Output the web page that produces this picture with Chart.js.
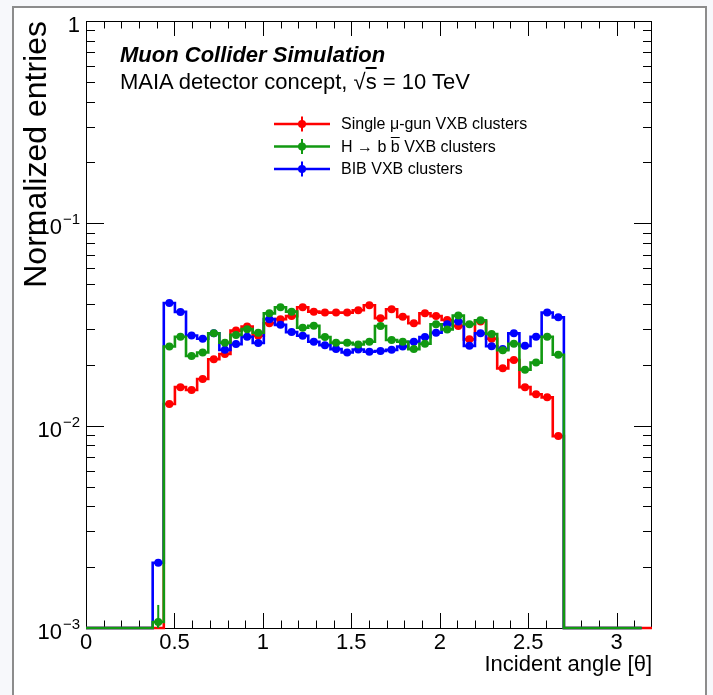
<!DOCTYPE html>
<html>
<head>
<meta charset="utf-8">
<script src="https://cdn.jsdelivr.net/npm/chart.js@4.4.1/dist/chart.umd.min.js"></script>
<style>
  html, body { margin: 0; padding: 0; background: #f7f8fb; }
  #wrap { position: relative; width: 713px; height: 695px; overflow: hidden; }
  #sheet { position: absolute; left: 12px; top: 6px; width: 695px; height: 700px;
           background: #fff; border: 2px solid #8c8c8c; box-sizing: border-box; }
  #c { position: absolute; left: 0; top: 0; }
  .txt { position: absolute; font-family: "Liberation Sans", Arial, sans-serif; color: #000;
         white-space: nowrap; }
  .ov { text-decoration: overline; }
</style>
</head>
<body>
<div id="wrap">
  <div id="sheet"></div>
  <canvas id="c" width="713" height="695"></canvas>
  <div class="txt" style="left:120px;top:44px;font-size:22px;line-height:22px;font-weight:bold;font-style:italic;">Muon Collider Simulation</div>
  <div class="txt" style="left:120px;top:71px;font-size:22px;line-height:22px;">MAIA detector concept, √<span class="ov">s</span> = 10 TeV</div>
  <div id="legend"></div>
</div>
<script>
// ---- binning: 50 bins over [0, pi] ----
const N_BINS = 50;
const BIN_LO = 0;
const BIN_HI = Math.PI;
const X_MAX = 3.2;
const Y_MIN = 1e-3;
const Y_MAX = 1;

// ---- normalized entries per bin (bins 0..49) ----
const muonGun = [
  0, 0, 0, 0, 0, 0, 0, 0.0128, 0.0155, 0.0150,
  0.0170, 0.0213, 0.0226, 0.0295, 0.0309, 0.0278, 0.0321, 0.0336, 0.0348, 0.0385,
  0.0366, 0.0362, 0.0362, 0.0362, 0.0372, 0.0394, 0.0340, 0.0376, 0.0345, 0.0321,
  0.0359, 0.0348, 0.0333, 0.0311, 0.0267, 0.0327, 0.0269, 0.0192, 0.0211, 0.0155,
  0.0143, 0.0138, 0.00888, 0, 0, 0, 0, 0, 0, 0
];
const hbb = [
  0, 0, 0, 0, 0, 0, 0.00107, 0.0246, 0.0275, 0.0221,
  0.0230, 0.0286, 0.0257, 0.0281, 0.0300, 0.0288, 0.0359, 0.0385, 0.0366, 0.0305,
  0.0312, 0.0274, 0.0257, 0.0257, 0.0252, 0.0260, 0.0311, 0.0265, 0.0260, 0.0239,
  0.0254, 0.0317, 0.0299, 0.0350, 0.0317, 0.0332, 0.0284, 0.0236, 0.0254, 0.0189,
  0.0205, 0.0275, 0.0224, 0, 0, 0, 0, 0, 0, 0
];
const bib = [
  0, 0, 0, 0, 0, 0, 0.0021, 0.0404, 0.0365, 0.0279,
  0.0269, 0.0286, 0.0237, 0.0253, 0.0275, 0.0256, 0.0336, 0.0315, 0.0290, 0.0278,
  0.0260, 0.0250, 0.0239, 0.0230, 0.0238, 0.0232, 0.0234, 0.0237, 0.0246, 0.0260,
  0.0274, 0.0288, 0.0317, 0.0327, 0.0248, 0.0286, 0.0247, 0.0239, 0.0286, 0.0248,
  0.0275, 0.0362, 0.0343, 0, 0, 0, 0, 0, 0, 0
];
// [bin index, error] where the error bar reaches outside the marker
const hbbErrors = [[6, 0.00023]];

// ---- axis ticks ----
const xTickValues = [0, 0.5, 1, 1.5, 2, 2.5, 3];
const xTickLabels = ['0', '0.5', '1', '1.5', '2', '2.5', '3'];
const yTickValues = [1, 1e-1, 1e-2, 1e-3];
const yTickExponents = [null, '\u22121', '\u22122', '\u22123'];

const seriesNames = [
  'Single \u03bc-gun VXB clusters',
  'H \u2192 b <span class="ov">b</span> VXB clusters',
  'BIB VXB clusters'
];
const seriesColors = ['#ff0000', '#119911', '#0000ff'];

const FONT = '"Liberation Sans", Arial, sans-serif';
const binWidth = (BIN_HI - BIN_LO) / N_BINS;
const edges = Array.from({length: N_BINS + 1}, (_, i) => BIN_LO + i * binWidth);

// step outline: first point on the low edge, then each bin's upper edge
function stepPoints(vals, extendTo) {
  const lvl = v => (v > Y_MIN ? v : Y_MIN);
  const pts = [{x: edges[0], y: lvl(vals[0])}];
  vals.forEach((v, i) => pts.push({x: edges[i + 1], y: lvl(v)}));
  if (extendTo !== undefined) pts.push({x: extendTo, y: Y_MIN});
  return pts;
}
function markerPoints(vals) {
  const pts = [];
  vals.forEach((v, i) => { if (v > 0) pts.push({x: edges[i] + binWidth / 2, y: v}); });
  return pts;
}
function histDataset(label, vals, color, order, extendTo) {
  return {label, data: stepPoints(vals, extendTo), borderColor: color, borderWidth: 2.6,
          stepped: 'after', pointRadius: 0, fill: false, order, clip: 5};
}
function markerDataset(label, vals, color, order) {
  return {label, data: markerPoints(vals), showLine: false, pointRadius: 4,
          pointBackgroundColor: color, pointBorderWidth: 0, borderColor: color, order, clip: 5};
}

const datasets = [
  markerDataset('hbb', hbb, seriesColors[1], 0),
  histDataset('hbb', hbb, seriesColors[1], 1),
  markerDataset('bib', bib, seriesColors[2], 2),
  histDataset('bib', bib, seriesColors[2], 3),
  markerDataset('muon', muonGun, seriesColors[0], 4),
  histDataset('muon', muonGun, seriesColors[0], 5, X_MAX)
];

// frame with inward ticks on all four sides
const framePlugin = {
  id: 'frame',
  beforeDatasetsDraw(chart) {
    const {ctx, chartArea: a, scales: {x, y}} = chart;
    ctx.save();
    ctx.strokeStyle = '#000';
    ctx.lineWidth = 1;
    ctx.strokeRect(Math.round(a.left) + 0.5, Math.round(a.top) + 0.5,
                   Math.round(a.right - a.left) - 1, Math.round(a.bottom - a.top));
    ctx.beginPath();
    for (let k = 1; k < Math.round(X_MAX * 10); k++) {
      const px = Math.round(x.getPixelForValue(k / 10)) + 0.5;
      const len = k % 5 === 0 ? 15 : 7.5;
      ctx.moveTo(px, a.bottom); ctx.lineTo(px, a.bottom - len);
      ctx.moveTo(px, a.top); ctx.lineTo(px, a.top + len);
    }
    for (let d = -3; d < 0; d++) {
      for (let m = 1; m <= 9; m++) {
        const v = m * Math.pow(10, d);
        if (v <= Y_MIN) continue;
        const py = Math.round(y.getPixelForValue(v)) + 0.5;
        const len = m === 1 ? 18 : 9;
        ctx.moveTo(a.left, py); ctx.lineTo(a.left + len, py);
        ctx.moveTo(a.right, py); ctx.lineTo(a.right - len, py);
      }
    }
    ctx.stroke();
    ctx.restore();
  },
  afterDatasetsDraw(chart) {
    const {ctx, chartArea: a, scales: {x, y}} = chart;
    ctx.save();
    ctx.beginPath();
    ctx.rect(a.left, a.top, a.right - a.left, a.bottom - a.top + 2);
    ctx.clip();
    ctx.strokeStyle = seriesColors[1];
    ctx.lineWidth = 2;
    ctx.beginPath();
    hbbErrors.forEach(([i, e]) => {
      const px = x.getPixelForValue(edges[i] + binWidth / 2);
      ctx.moveTo(px, y.getPixelForValue(hbb[i] + e));
      ctx.lineTo(px, y.getPixelForValue(Math.max(hbb[i] - e, Y_MIN)));
    });
    ctx.stroke();
    ctx.restore();
  },
  afterDraw(chart) {
    const {ctx, scales: {y}} = chart;
    ctx.save();
    ctx.fillStyle = '#000';
    ctx.textBaseline = 'alphabetic';
    const right = 80;
    yTickValues.forEach((v, i) => {
      const cy = y.getPixelForValue(v) + 3;
      const exp = yTickExponents[i];
      ctx.font = '22px ' + FONT;
      if (exp === null) {
        ctx.textAlign = 'right';
        ctx.fillText('1', right, cy + 8);
        return;
      }
      ctx.textAlign = 'left';
      ctx.font = '15px ' + FONT;
      const sw = ctx.measureText(exp).width;
      ctx.fillText(exp, right - sw, cy - 2);
      ctx.font = '22px ' + FONT;
      const bw = ctx.measureText('10').width;
      ctx.fillText('10', right - sw - 1 - bw, cy + 8);
    });
    // legend symbols
    legendRows.forEach((ry, i) => {
      const c = seriesColors[i];
      ctx.strokeStyle = c;
      ctx.fillStyle = c;
      ctx.lineWidth = 2.6;
      ctx.beginPath();
      ctx.moveTo(legendLine[0], ry); ctx.lineTo(legendLine[1], ry);
      ctx.stroke();
      ctx.lineWidth = 2;
      const mx = (legendLine[0] + legendLine[1]) / 2;
      ctx.beginPath();
      ctx.moveTo(mx, ry - 7.5); ctx.lineTo(mx, ry + 7.5);
      ctx.stroke();
      ctx.beginPath();
      ctx.arc(mx, ry, 4, 0, Math.PI * 2);
      ctx.fill();
    });
    ctx.restore();
  }
};

const legendRows = [124, 146.5, 169];
const legendLine = [274, 330];
const legendEl = document.getElementById('legend');
seriesNames.forEach((name, i) => {
  const d = document.createElement('div');
  d.className = 'txt';
  d.style.cssText = `left:341px;top:${legendRows[i] - 8}px;font-size:16px;line-height:16px;`;
  d.innerHTML = name;
  legendEl.appendChild(d);
});

new Chart(document.getElementById('c'), {
  type: 'line',
  data: {datasets},
  options: {
    responsive: false,
    devicePixelRatio: 1,
    animation: false,
    events: [],
    layout: {padding: {left: 0, top: 21, right: 61, bottom: 0}},
    plugins: {legend: {display: false}, tooltip: {enabled: false}},
    scales: {
      x: {
        type: 'linear', min: 0, max: X_MAX,
        afterBuildTicks: s => { s.ticks = xTickValues.map(v => ({value: v})); },
        afterFit: s => { s.height = 67; },
        grid: {display: false}, border: {display: false},
        ticks: {color: '#000', font: {family: FONT, size: 22}, padding: -6,
                maxRotation: 0, autoSkip: false,
                callback: (v, i) => xTickLabels[i]},
        title: {display: true, text: 'Incident angle [\u03b8]', align: 'end', color: '#000',
                font: {family: FONT, size: 22}, padding: {top: 0, bottom: 17}}
      },
      y: {
        type: 'logarithmic', min: Y_MIN, max: Y_MAX,
        afterFit: s => { s.width = 86; },
        grid: {display: false}, border: {display: false},
        ticks: {display: false},
        title: {display: true, text: 'Normalized entries', align: 'end', color: '#000',
                font: {family: FONT, size: 32}, padding: {top: 18, bottom: 0}}
      }
    }
  },
  plugins: [framePlugin]
});
</script>
</body>
</html>
